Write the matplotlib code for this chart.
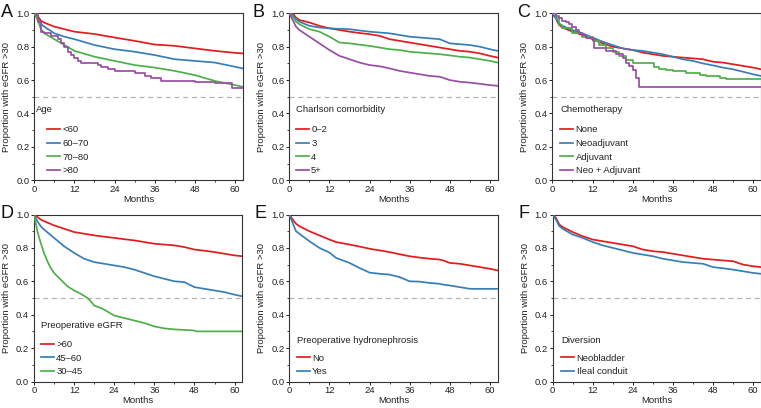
import matplotlib
matplotlib.use("Agg")
import matplotlib.pyplot as plt
from matplotlib.ticker import MultipleLocator, FormatStrFormatter

plt.rcParams['font.family'] = ['Liberation Sans', 'DejaVu Sans']

# ---------------- data ----------------
RED, BLUE, GREEN, PURPLE = '#e41a1c', '#377eb8', '#4daf4a', '#984ea3'

# Panel A: Age
A_t = [0, 1, 2, 3, 6, 9, 12, 18, 24, 30, 36, 42, 48, 54, 60, 62.3]
A_lt60 = [1.0, 0.985, 0.955, 0.944, 0.92, 0.905, 0.89, 0.876, 0.855, 0.835, 0.813, 0.805, 0.79, 0.775, 0.763, 0.76]
A_60_70 = [1.0, 0.97, 0.935, 0.92, 0.88, 0.86, 0.845, 0.81, 0.785, 0.77, 0.75, 0.725, 0.715, 0.705, 0.68, 0.67]
A_70_80 = [1.0, 0.96, 0.905, 0.88, 0.845, 0.81, 0.775, 0.74, 0.715, 0.69, 0.675, 0.655, 0.63, 0.595, 0.57, 0.56]
A_gt80_t = [0, 1, 2, 3, 5, 7, 8, 9, 10, 11, 12, 13, 14, 19, 20, 22, 24, 26, 30, 33, 35, 38, 48, 54, 59, 62.3]
A_gt80 = [1.0, 0.95, 0.89, 0.88, 0.865, 0.845, 0.825, 0.80, 0.77, 0.75, 0.73, 0.715, 0.70, 0.69, 0.68, 0.665,
          0.655, 0.655, 0.64, 0.625, 0.61, 0.595, 0.59, 0.58, 0.555, 0.555]
A_labels = ['<60', '60\u201370', '70\u201380', '>80']

# Panel B: Charlson comorbidity
B_t = [0, 1, 2, 3, 6, 9, 12, 15, 18, 21, 24, 27, 30, 33, 36, 39, 42, 45, 48, 51, 54, 57, 60, 62.3]
B_0_2 = [1.0, 1.0, 0.975, 0.96, 0.945, 0.925, 0.91, 0.9, 0.89, 0.882, 0.875, 0.865, 0.845, 0.835, 0.825,
         0.815, 0.805, 0.795, 0.785, 0.775, 0.77, 0.76, 0.745, 0.735]
B_3 = [1.0, 0.99, 0.965, 0.95, 0.925, 0.915, 0.91, 0.907, 0.905, 0.897, 0.89, 0.885, 0.88, 0.87, 0.86,
       0.855, 0.85, 0.845, 0.82, 0.815, 0.81, 0.8, 0.785, 0.775]
B_4 = [1.0, 0.98, 0.95, 0.935, 0.905, 0.89, 0.86, 0.825, 0.82, 0.812, 0.805, 0.795, 0.785, 0.78, 0.77,
       0.765, 0.76, 0.755, 0.748, 0.74, 0.735, 0.725, 0.715, 0.705]
B_5p = [1.0, 0.96, 0.92, 0.9, 0.86, 0.82, 0.78, 0.745, 0.725, 0.705, 0.69, 0.683, 0.67, 0.655, 0.645,
        0.635, 0.625, 0.62, 0.60, 0.59, 0.585, 0.578, 0.57, 0.566]
B_labels = ['0\u20132', '3', '4', '5+']

# Panel C: Chemotherapy
C_t = [0, 1, 2, 3, 6, 9, 12, 15, 18, 21, 24, 27, 30, 33, 36, 39, 42, 45, 48, 51, 54, 57, 60, 62.3]
C_none = [1.0, 0.97, 0.93, 0.915, 0.89, 0.87, 0.845, 0.82, 0.80, 0.79, 0.78, 0.765, 0.755, 0.745, 0.74,
          0.735, 0.73, 0.725, 0.71, 0.705, 0.695, 0.685, 0.675, 0.665]
C_neo = [1.0, 0.97, 0.94, 0.925, 0.90, 0.88, 0.855, 0.83, 0.81, 0.79, 0.78, 0.775, 0.765, 0.755, 0.74,
         0.725, 0.715, 0.70, 0.688, 0.675, 0.665, 0.65, 0.635, 0.625]
C_adj_t = [0, 1, 2, 3, 6, 9, 12, 14, 16, 18, 20, 22, 24, 29, 30.5, 32, 34, 36, 40, 44, 46, 50, 52, 62.3]
C_adj = [1.0, 0.97, 0.93, 0.91, 0.88, 0.86, 0.835, 0.81, 0.79, 0.77, 0.745, 0.72, 0.70, 0.70, 0.68,
         0.665, 0.66, 0.655, 0.64, 0.63, 0.625, 0.615, 0.605, 0.605]
C_both_t = [0, 1, 2, 3, 4, 5, 6, 7, 8, 9, 10, 12, 12.3, 16, 19, 21, 22, 23, 24, 25, 26, 62.3]
C_both = [1.0, 0.985, 0.97, 0.955, 0.945, 0.935, 0.92, 0.9, 0.88, 0.87, 0.855, 0.84, 0.79, 0.775, 0.755,
          0.73, 0.70, 0.685, 0.66, 0.61, 0.56, 0.56]
C_labels = ['None', 'Neoadjuvant', 'Adjuvant', 'Neo + Adjuvant']

# Panel D: Preoperative eGFR
D_t = [0, 1, 2, 3, 6, 9, 12, 15, 18, 21, 24, 27, 30, 33, 36, 39, 42, 45, 48, 51, 54, 57, 60, 62.3]
D_gt60 = [1.0, 0.985, 0.97, 0.96, 0.935, 0.915, 0.895, 0.885, 0.875, 0.867, 0.86, 0.852, 0.845, 0.835,
          0.825, 0.82, 0.815, 0.805, 0.79, 0.783, 0.775, 0.765, 0.755, 0.75]
D_45_60 = [1.0, 0.96, 0.93, 0.91, 0.86, 0.81, 0.77, 0.735, 0.715, 0.705, 0.695, 0.685, 0.67, 0.65, 0.63,
           0.615, 0.60, 0.595, 0.565, 0.555, 0.545, 0.535, 0.52, 0.51]
D_30_45_t = [0, 0.5, 1, 2, 3, 4, 5, 6, 8, 10, 12, 14, 16, 17, 18, 20, 21, 24, 27, 30, 33, 36, 39, 42, 46,
             48, 48.5, 62.3]
D_30_45 = [1.0, 0.95, 0.90, 0.83, 0.77, 0.72, 0.68, 0.65, 0.61, 0.57, 0.545, 0.525, 0.50, 0.48, 0.455,
           0.44, 0.43, 0.395, 0.38, 0.365, 0.35, 0.33, 0.318, 0.312, 0.308, 0.305, 0.30, 0.30]
D_labels = ['>60', '45\u201360', '30\u201345']

# Panel E: Preoperative hydronephrosis
E_t = [0, 1, 2, 3, 6, 9, 12, 14, 18, 21, 24, 27, 30, 33, 36, 39, 42, 45, 46, 48, 51, 54, 57, 60, 62.3]
E_no = [1.0, 0.97, 0.945, 0.93, 0.90, 0.875, 0.85, 0.835, 0.82, 0.808, 0.795, 0.785, 0.775, 0.762, 0.75,
        0.742, 0.735, 0.73, 0.725, 0.71, 0.705, 0.695, 0.685, 0.675, 0.665]
E_yes = [1.0, 0.95, 0.90, 0.885, 0.84, 0.80, 0.772, 0.74, 0.71, 0.68, 0.652, 0.645, 0.64, 0.625, 0.60,
         0.598, 0.59, 0.585, 0.58, 0.575, 0.565, 0.555, 0.555, 0.555, 0.555]
E_labels = ['No', 'Yes']

# Panel F: Diversion
F_t = [0, 1, 2, 3, 6, 9, 12, 15, 18, 21, 24, 27, 30, 33, 36, 39, 42, 45, 48, 51, 54, 57, 60, 62.3]
F_neo = [1.0, 0.98, 0.94, 0.925, 0.895, 0.87, 0.85, 0.84, 0.83, 0.82, 0.81, 0.79, 0.78, 0.775, 0.765,
         0.755, 0.745, 0.735, 0.73, 0.725, 0.72, 0.70, 0.69, 0.685]
F_ileal = [1.0, 0.97, 0.93, 0.915, 0.88, 0.86, 0.835, 0.815, 0.80, 0.785, 0.77, 0.76, 0.75, 0.735, 0.725,
           0.715, 0.71, 0.705, 0.685, 0.678, 0.67, 0.66, 0.65, 0.645]
F_labels = ['Neobladder', 'Ileal conduit']

x_ticks = [0, 12, 24, 36, 48, 60]
y_ticks = [0.0, 0.2, 0.4, 0.6, 0.8, 1.0]

panels = [
    dict(letter='A', title='Age', curves=[(A_t, A_lt60, RED, False), (A_t, A_60_70, BLUE, False),
                                          (A_t, A_70_80, GREEN, False), (A_gt80_t, A_gt80, PURPLE, True)],
         labels=A_labels, pos=(34.3, 13.3), tx=0.01, hx=0.06, lx=1),
    dict(letter='B', title='Charlson comorbidity', curves=[(B_t, B_0_2, RED, False), (B_t, B_3, BLUE, False),
                                                           (B_t, B_4, GREEN, False), (B_t, B_5p, PURPLE, False)],
         labels=B_labels, pos=(289.3, 13.3), tx=0.03, hx=0.03, lx=252),
    dict(letter='C', title='Chemotherapy', curves=[(C_t, C_none, RED, False), (C_t, C_neo, BLUE, False),
                                                  (C_adj_t, C_adj, GREEN, True), (C_both_t, C_both, PURPLE, True)],
         labels=C_labels, pos=(552.4, 13.3), tx=0.037, hx=0.037, lx=517),
    dict(letter='D', title='Preoperative eGFR', curves=[(D_t, D_gt60, RED, False), (D_t, D_45_60, BLUE, False),
                                                       (D_30_45_t, D_30_45, GREEN, False)],
         labels=D_labels, pos=(34.0, 214.5), tx=0.032, hx=0.032, lx=1),
    dict(letter='E', title='Preoperative hydronephrosis', curves=[(E_t, E_no, RED, False), (E_t, E_yes, BLUE, False)],
         labels=E_labels, pos=(289.3, 214.5), tx=0.035, hx=0.035, lx=254),
    dict(letter='F', title='Diversion', curves=[(F_t, F_neo, RED, False), (F_t, F_ileal, BLUE, False)],
         labels=F_labels, pos=(552.6, 214.5), tx=0.04, hx=0.04, lx=518),
]

W, H = 761, 408
AX_W, AX_H = 208.3, 167.0
fig = plt.figure(figsize=(W / 100, H / 100), dpi=100)
FS = 6.8
TXT = '#222222'

for p in panels:
    left, top = p['pos']
    ax = fig.add_axes([left / W, (H - top - AX_H) / H, AX_W / W, AX_H / H])
    ax.axhline(0.5, color='#b4b4b4', lw=0.9, ls=(0, (4, 3)), zorder=1)
    handles = []
    for (t, v, c, step) in p['curves']:
        ln, = ax.plot(t, v, color=c, lw=1.25, drawstyle='steps-post' if step else 'default', zorder=3)
        handles.append(ln)
    ax.set_xlim(0, 62.3)
    ax.set_ylim(0, 1.0)
    ax.set_xticks(x_ticks)
    ax.set_yticks(y_ticks)
    ax.xaxis.set_minor_locator(MultipleLocator(6))
    ax.yaxis.set_minor_locator(MultipleLocator(0.1))
    ax.yaxis.set_major_formatter(FormatStrFormatter('%.1f'))
    ax.tick_params(which='major', direction='out', length=2.5, width=0.7, labelsize=FS, colors=TXT, pad=1)
    ax.tick_params(which='minor', direction='out', length=1.5, width=0.6, colors=TXT)
    for s in ax.spines.values():
        s.set_linewidth(0.8)
        s.set_color('#333333')
    ax.set_xlabel('Months', fontsize=FS, color=TXT, labelpad=0.5)
    ax.set_ylabel('Proportion with eGFR >30', fontsize=FS, color=TXT, labelpad=3.5)
    n = len(handles)
    leg = ax.legend(handles, p['labels'], loc='lower left', bbox_to_anchor=(p['hx'], 0.03),
                    frameon=False, fontsize=FS, handlelength=1.4, handletextpad=0.25,
                    labelspacing=0.5, borderpad=0, borderaxespad=0)
    for txt in leg.get_texts():
        txt.set_color(TXT)
    ax.text(p['tx'], 0.066 + n * 0.09, p['title'], transform=ax.transAxes, fontsize=FS,
            color=TXT, ha='left', va='center')
    fig.text(p['lx'] / W, (H - top - 4) / H, p['letter'], fontsize=13, ha='left', va='baseline',
             color='#111111')

fig.savefig('out.png', dpi=100)
